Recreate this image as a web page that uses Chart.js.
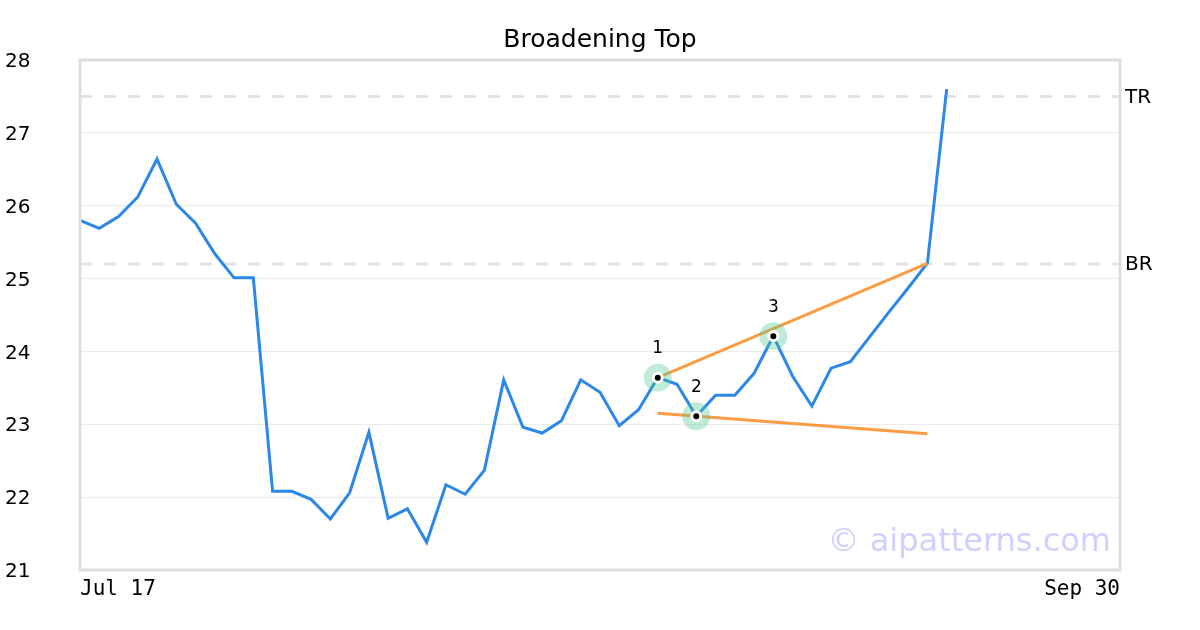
<!DOCTYPE html>
<html>
<head>
<meta charset="utf-8">
<style>
  html, body { margin: 0; padding: 0; background: #fff; }
  #wrap { width: 1200px; height: 630px; position: relative; }
</style>
<script src="https://cdn.jsdelivr.net/npm/chart.js@4.4.0/dist/chart.umd.min.js"></script>
</head>
<body>
<div id="wrap"><canvas id="chart" width="1200" height="630"></canvas></div>
<script>
// trading days on the x axis (first / last are the only labels shown)
const days = [
  'Jul 17', 'Jul 18', 'Jul 19', 'Jul 20', 'Jul 21', 'Jul 24', 'Jul 25', 'Jul 26', 'Jul 27', 'Jul 28',
  'Jul 31', 'Aug 1', 'Aug 2', 'Aug 3', 'Aug 4', 'Aug 7', 'Aug 8', 'Aug 9', 'Aug 10', 'Aug 11',
  'Aug 14', 'Aug 15', 'Aug 16', 'Aug 17', 'Aug 18', 'Aug 21', 'Aug 22', 'Aug 23', 'Aug 24', 'Aug 25',
  'Aug 28', 'Aug 29', 'Aug 30', 'Aug 31', 'Sep 1', 'Sep 4', 'Sep 5', 'Sep 6', 'Sep 7', 'Sep 8',
  'Sep 11', 'Sep 12', 'Sep 13', 'Sep 14', 'Sep 15', 'Sep 18', 'Sep 19', 'Sep 20', 'Sep 21', 'Sep 22',
  'Sep 25', 'Sep 26', 'Sep 27', 'Sep 28', 'Sep 29'
];
const xTickText = ['Jul 17', 'Sep 30'];

const price = [
  25.80, 25.69, 25.85, 26.12, 26.64, 26.02, 25.76, 25.34, 25.01, 25.01,
  22.08, 22.08, 21.97, 21.70, 22.06, 22.89, 21.71, 21.84, 21.38, 22.17,
  22.04, 22.37, 23.61, 22.96, 22.88, 23.05, 23.61, 23.44, 22.98, 23.20,
  23.64, 23.55, 23.11, 23.40, 23.40, 23.70, 24.21, 23.66, 23.25, 23.77,
  23.86, 24.20, 24.54, 24.87, 25.21, 27.60
];

// pattern pivots (index into days) and their labels
const pivotIdx = [30, 32, 36];
const pivotText = ['1', '2', '3'];

// broadening trend lines [startIdx, startVal, endIdx, endVal]
const upperLine = [30, 23.64, 44, 25.21];
const lowerLine = [30, 23.15, 44, 22.87];

// horizontal levels
const levelNames = ['TR', 'BR'];
const levelVals = [27.5, 25.2];

const yTicks = [21, 22, 23, 24, 25, 26, 27, 28];
const titleText = 'Broadening Top';

const FONT = "'DejaVu Sans', sans-serif";
const MONO = "'DejaVu Sans Mono', monospace";

const seg = (l) => [{ x: days[l[0]], y: l[1] }, { x: days[l[2]], y: l[3] }];
const pivotPts = pivotIdx.map(i => ({ x: days[i], y: price[i] }));

const levelSets = levelVals.map(v => ({
  data: [{ x: days[0], y: v }, { x: days[days.length - 1], y: v }],
  borderColor: '#e3e3e3', borderWidth: 3, borderDash: [12, 12],
  pointRadius: 0, order: 5
}));

const extras = {
  id: 'extras',
  beforeDatasetsDraw(chart) {
    const { ctx, chartArea: a } = chart;
    ctx.save();
    ctx.font = '32px ' + FONT;
    ctx.fillStyle = 'rgba(200,200,255,0.85)';
    ctx.textAlign = 'right';
    ctx.textBaseline = 'middle';
    ctx.fillText('\u00a9 aipatterns.com', a.right - 9, a.bottom - 27);
    ctx.restore();
  },
  afterDraw(chart) {
    const { ctx, chartArea: a, scales: { x, y } } = chart;
    ctx.save();
    ctx.strokeStyle = '#dedede';
    ctx.lineWidth = 3;
    ctx.strokeRect(a.left, a.top, a.right - a.left, a.bottom - a.top);

    ctx.fillStyle = '#000';
    ctx.textBaseline = 'middle';
    ctx.textAlign = 'center';
    ctx.font = '25px ' + FONT;
    ctx.fillText(titleText, chart.width / 2, 40);

    ctx.font = '20px ' + FONT;
    ctx.textAlign = 'left';
    levelNames.forEach((n, i) => ctx.fillText(n, a.right + 5, y.getPixelForValue(levelVals[i]) + 1));

    ctx.font = '17px ' + FONT;
    ctx.textAlign = 'center';
    pivotIdx.forEach((idx, i) => {
      ctx.fillText(pivotText[i], x.getPixelForValue(idx), y.getPixelForValue(price[idx]) - 29);
    });
    ctx.restore();
  }
};

new Chart(document.getElementById('chart'), {
  type: 'line',
  data: {
    labels: days,
    datasets: [
      ...levelSets,
      { data: price, borderColor: '#2c87e8', borderWidth: 3, pointRadius: 0, tension: 0, order: 4 },
      { data: seg(upperLine), borderColor: '#fb9c45', borderWidth: 3, pointRadius: 0, order: 3 },
      { data: seg(lowerLine), borderColor: '#fb9c45', borderWidth: 3, pointRadius: 0, order: 3 },
      { data: pivotPts, showLine: false, pointRadius: 14, pointBorderWidth: 0,
        pointBackgroundColor: 'rgba(80,200,140,0.36)', order: 2 },
      { data: pivotPts, showLine: false, pointRadius: 4.5, pointBorderWidth: 3,
        pointBorderColor: '#fff', pointBackgroundColor: '#000', order: 1 }
    ]
  },
  options: {
    responsive: false,
    animation: false,
    layout: { padding: { left: 5, right: 80, top: 60, bottom: 0 } },
    plugins: {
      legend: { display: false },
      tooltip: { enabled: false },
      title: { display: false }
    },
    scales: {
      x: {
        type: 'category', offset: false,
        grid: { display: false, drawTicks: false },
        border: { display: false },
        afterFit: s => { s.height = 60; },
        ticks: {
          autoSkip: false, maxRotation: 0, align: 'inner', padding: 7,
          color: '#000', font: { family: MONO, size: 21 },
          callback: (v, i) => i === 0 ? xTickText[0] : (i === days.length - 1 ? xTickText[1] : '')
        }
      },
      y: {
        min: 21, max: 28,
        afterFit: s => { s.width = 75; },
        afterBuildTicks: s => { s.ticks = yTicks.map(v => ({ value: v })); },
        grid: { color: '#ececec', lineWidth: 1, drawTicks: false },
        border: { display: false },
        ticks: { crossAlign: 'far', labelOffset: 2, color: '#000', font: { family: FONT, size: 20 } }
      }
    }
  },
  plugins: [extras]
});
</script>
</body>
</html>
